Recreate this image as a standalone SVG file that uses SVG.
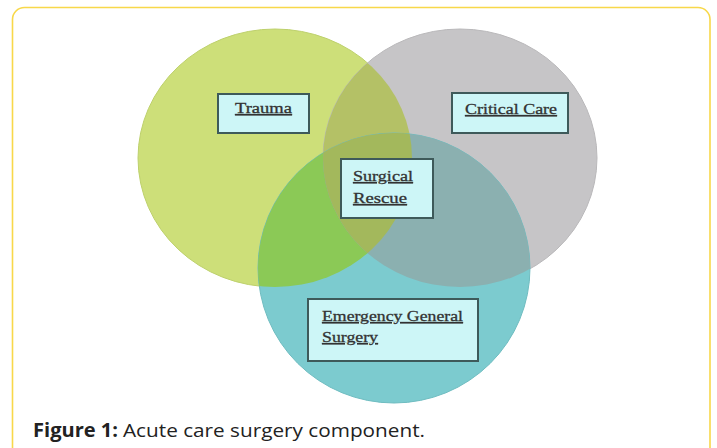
<svg xmlns="http://www.w3.org/2000/svg" xmlns:xlink="http://www.w3.org/1999/xlink" width="717" height="448" viewBox="0 0 717 448">
  <style>
    .box { fill: #cdf6f7; stroke: #3e5a5a; stroke-width: 2; }
    .lbl { font-family: "Liberation Serif", "DejaVu Serif", serif; font-size: 14.5px; fill: #333333; stroke: #333333; stroke-width: 0.3; text-decoration: underline; }
    .cap { font-family: "Open Sans", "Liberation Sans", sans-serif; font-size: 19px; fill: #222; }
  </style>
  <defs>
    <ellipse id="setT" cx="275" cy="158" rx="137" ry="129"/>
    <ellipse id="setC" cx="460" cy="158" rx="137" ry="129"/>
    <ellipse id="setE" cx="394" cy="268" rx="136" ry="135"/>
    <clipPath id="clipT"><use xlink:href="#setT"/></clipPath>
    <clipPath id="clipC"><use xlink:href="#setC"/></clipPath>
    <filter id="soft" x="-5%" y="-5%" width="110%" height="110%">
      <feGaussianBlur stdDeviation="0.6"/>
    </filter>
  </defs>

  <rect width="717" height="448" fill="#ffffff"/>
  <!-- frame, open at the bottom -->
  <path d="M12.5 460 V19.5 A12 12 0 0 1 24.5 7.5 H698 A12 12 0 0 1 710 19.5 V460" fill="none" stroke="#f8d84a" stroke-width="1.6"/>

  <!-- three overlapping sets -->
  <g id="sets" filter="url(#soft)">
    <use xlink:href="#setT" fill="#cddf79" stroke="#bdd06c" stroke-width="1"/>
    <use xlink:href="#setC" fill="#c6c5c7" stroke="#b9b8ba" stroke-width="1"/>
    <use xlink:href="#setC" fill="#b4c166" clip-path="url(#clipT)"/>
    <use xlink:href="#setE" fill="#7ccbcf" stroke="#6fbcc0" stroke-width="1"/>
    <use xlink:href="#setE" fill="#8bc956" clip-path="url(#clipT)"/>
    <use xlink:href="#setE" fill="#8bb0b0" clip-path="url(#clipC)"/>
    <g clip-path="url(#clipC)">
      <use xlink:href="#setE" fill="#a3b85c" clip-path="url(#clipT)"/>
    </g>
  </g>

  <g id="trauma">
    <rect class="box" x="218" y="94" width="91" height="39"/>
    <text class="lbl" x="235" y="113" textLength="57" lengthAdjust="spacingAndGlyphs">Trauma</text>
  </g>

  <g id="critical-care">
    <rect class="box" x="452" y="93" width="116" height="40"/>
    <text class="lbl" x="465" y="114" textLength="92" lengthAdjust="spacingAndGlyphs">Critical Care</text>
  </g>

  <g id="surgical-rescue">
    <rect class="box" x="341" y="159" width="92" height="59"/>
    <text class="lbl" x="353" y="181" textLength="60" lengthAdjust="spacingAndGlyphs">Surgical</text>
    <text class="lbl" x="353" y="203" textLength="54" lengthAdjust="spacingAndGlyphs">Rescue</text>
  </g>

  <g id="emergency-general-surgery">
    <rect class="box" x="308" y="299" width="170" height="62"/>
    <text class="lbl" x="322" y="321" textLength="141" lengthAdjust="spacingAndGlyphs">Emergency General</text>
    <text class="lbl" x="322" y="342" textLength="56" lengthAdjust="spacingAndGlyphs">Surgery</text>
  </g>

  <!-- caption -->
  <g id="caption">
    <text class="cap" x="33" y="437" font-weight="bold" textLength="85" lengthAdjust="spacingAndGlyphs">Figure 1:</text>
    <text class="cap" x="123" y="437" textLength="302" lengthAdjust="spacingAndGlyphs">Acute care surgery component.</text>
  </g>
</svg>
